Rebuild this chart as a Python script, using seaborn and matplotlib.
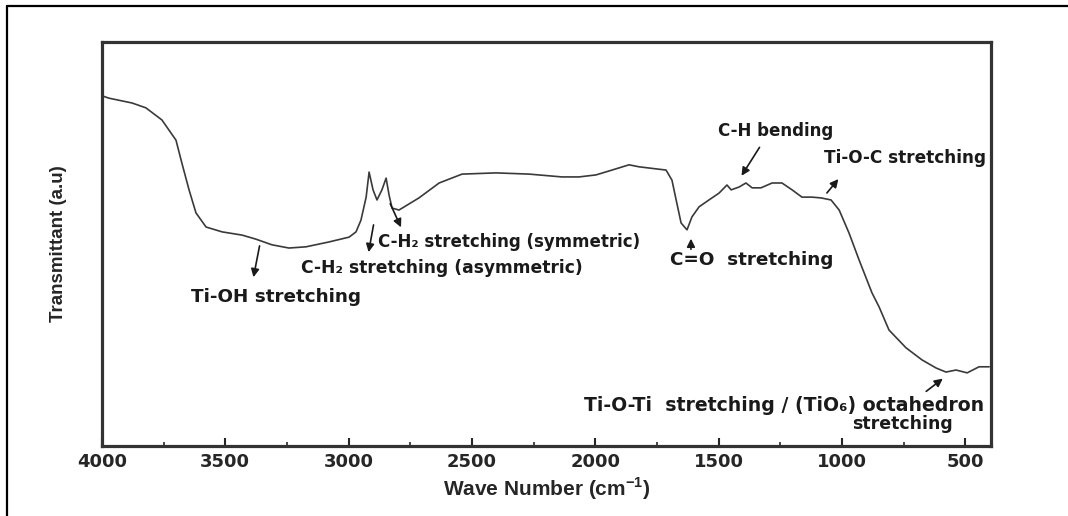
import numpy as np
import pandas as pd
from matplotlib import pyplot as plt
import matplotlib.ticker as ticker
from matplotlib.lines import Line2D
import seaborn as sns

# DATA (arbitrary transmittance units)
wave_number = [3996, 3972, 3878, 3822, 3757, 3700, 3676, 3647, 3619, 3578,
               3513, 3432, 3376, 3311, 3242, 3173, 3080, 2998, 2970, 2950,
               2929, 2917, 2901, 2885, 2865, 2848, 2836, 2824, 2796, 2715,
               2633, 2540, 2402, 2268, 2135, 2066, 1997, 1932, 1863, 1822,
               1713, 1689, 1672, 1652, 1628, 1608, 1579, 1539, 1498, 1466,
               1449, 1417, 1389, 1364, 1328, 1283, 1243, 1202, 1162, 1121,
               1084, 1044, 1011, 971, 930, 878, 849, 809, 740, 675,
               618, 578, 537, 492, 444, 403]
transmittance = [86.6, 86.1, 84.9, 83.7, 80.7, 75.7, 70.0, 63.4, 57.7, 54.2,
                 53.0, 52.2, 51.2, 49.8, 49.0, 49.3, 50.5, 51.7, 53.0, 55.9,
                 61.6, 67.8, 63.4, 60.9, 63.4, 66.3, 62.1, 58.9, 58.4, 61.4,
                 65.1, 67.3, 67.6, 67.3, 66.6, 66.6, 67.1, 68.3, 69.6, 69.1,
                 68.3, 65.8, 60.9, 55.2, 53.5, 56.7, 59.2, 60.9, 62.6, 64.6,
                 63.4, 64.1, 65.1, 63.9, 63.9, 65.1, 65.1, 63.4, 61.6, 61.6,
                 61.4, 60.9, 58.4, 52.7, 46.0, 37.9, 34.4, 28.7, 24.3, 21.3,
                 19.3, 18.3, 18.8, 18.1, 19.6, 19.6]

x_ticks = [4000, 3500, 3000, 2500, 2000, 1500, 1000, 500]

# labels: text, text pos (wn, T), arrow tail, arrow head, font size
labels = [
    ("Ti-OH stretching", (3294, 36.9), (3359, 50.2), (3388, 41.1), 13.2),
    ("C-H\u2082 stretching (asymmetric)", (2621, 44.1), (2897, 55.4), (2921, 47.3), 12.3),
    ("C-H\u2082 stretching (symmetric)", (2350, 50.5), (2836, 60.6), (2783, 53.5), 12.0),
    ("C=O  stretching", (1364, 46.0), (1612, 48.0), (1612, 52.0), 13.2),
    ("C-H bending", (1267, 78.0), (1328, 74.5), (1413, 66.3), 12.0),
    ("Ti-O-C stretching", (744, 71.3), (1068, 62.1), (1007, 66.6), 12.2),
    ("Ti-O-Ti  stretching / (TiO\u2086) octahedron", (1234, 10.1), (667, 13.1), (582, 17.1), 13.6),
    ("stretching", (756, 5.4), None, None, 12.5),
]

df = pd.DataFrame({'wn': wave_number, 'T': transmittance})

sns.set_style('white')
plt.rcParams['font.family'] = ['DejaVu Sans']
plt.rcParams['mathtext.fontset'] = 'custom'
plt.rcParams['mathtext.bf'] = 'Liberation Sans:bold'

fig = plt.figure(figsize=(10.68, 5.16), dpi=100)
ax = fig.add_axes([0.0955, 0.1357, 0.8325, 0.7829])

sns.lineplot(data=df, x='wn', y='T', sort=False, color='#3a3a3a', linewidth=1.2, ax=ax)

ax.set_xlim(4000, 395)
ax.set_ylim(0, 100)
ax.set_yticks([])
ax.xaxis.set_major_locator(ticker.FixedLocator(x_ticks))
ax.xaxis.set_minor_locator(ticker.MultipleLocator(250))
ax.tick_params(axis='x', which='major', direction='in', length=6, width=1.5,
               bottom=True, top=False, labelsize=13, pad=5)
ax.tick_params(axis='x', which='minor', direction='in', length=3, width=1.2,
               bottom=True, top=False)
for lbl in ax.get_xticklabels():
    lbl.set_fontweight('bold')

for sp in ax.spines.values():
    sp.set_linewidth(2.3)
    sp.set_color('#333333')

ax.set_xlabel('Wave Number (cm$^{\\mathbf{-1}}$)', family='Liberation Sans',
              fontweight='bold', fontsize=15, labelpad=3)
ax.set_ylabel('Transmittant (a.u)', family='Liberation Sans',
              fontweight='bold', fontsize=13.5, labelpad=25)

for text, pos, tail, head, fs in labels:
    ax.text(pos[0], pos[1], text, ha='center', va='center',
            fontsize=fs, fontweight='bold', color='#1a1a1a')
    if tail is not None:
        ax.annotate('', xy=head, xytext=tail,
                    arrowprops=dict(arrowstyle='-|>', color='#1a1a1a',
                                    lw=1.2, mutation_scale=12))

# outer frame (top and left only)
fig.add_artist(Line2D([0.0066, 1.0], [0.9884, 0.9884], transform=fig.transFigure,
                      color='black', linewidth=1.6))
fig.add_artist(Line2D([0.0066, 0.0066], [0.0, 0.9884], transform=fig.transFigure,
                      color='black', linewidth=1.6))

fig.savefig('out.png', dpi=100)
plt.close()
